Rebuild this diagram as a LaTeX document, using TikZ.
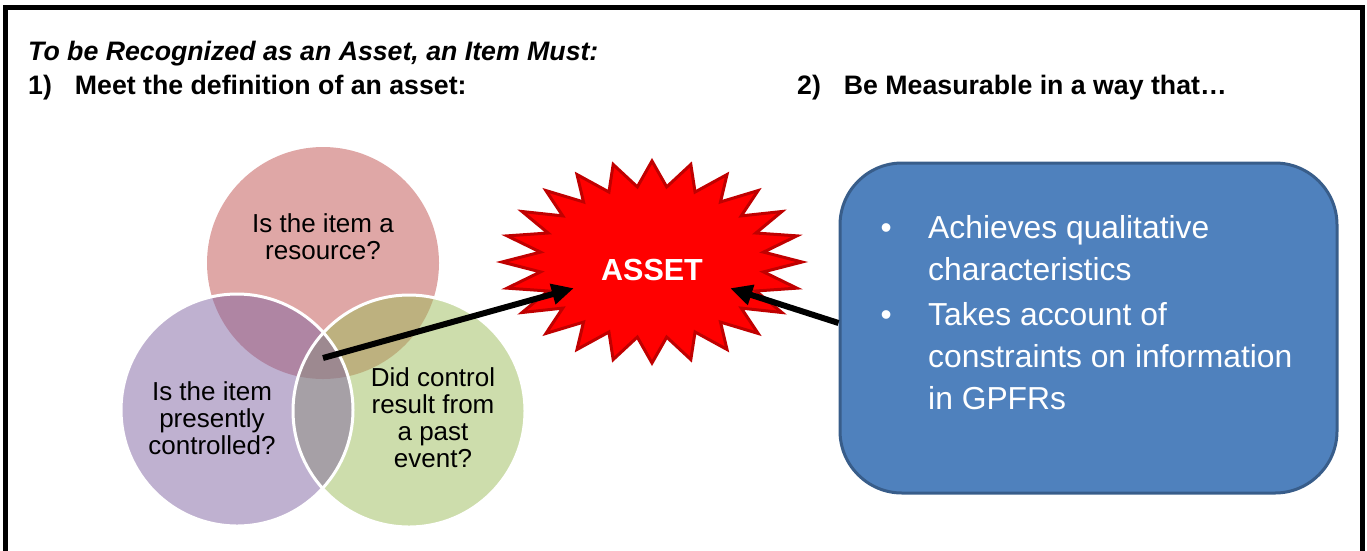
\documentclass[tikz,border=0pt]{standalone}
\usepackage{fontspec}
\setmainfont{Liberation Sans}
\usetikzlibrary{arrows.meta}
\usetikzlibrary{positioning}
\definecolor{vennred}{HTML}{C0504D}
\definecolor{vennpurple}{HTML}{8064A2}
\definecolor{venngreen}{HTML}{9BBB59}
\definecolor{boxblue}{HTML}{4F81BD}
\definecolor{boxedge}{HTML}{385D8A}
\definecolor{burstedge}{HTML}{C00000}

\begin{document}
\begin{tikzpicture}[x=1pt, y=-1pt, % Koordinaten in Pixeln, y nach unten
    venn/.style={circle, minimum size=232pt, inner sep=0pt, fill opacity=0.5},
    venntext/.style={align=center, inner sep=0pt, font=\fontsize{26}{27}\selectfont},
    heading/.style={anchor=base west, inner sep=0pt, font=\fontsize{26.7}{30}\selectfont\bfseries},
    burst/.style={fill=red, draw=burstedge, line width=3pt, line join=miter},
    measurebox/.style={rounded corners=62pt, fill=boxblue, draw=boxedge, line width=3pt, minimum width=497pt, minimum height=330pt},
    pointer/.style={line width=6pt, -{Triangle[length=22pt,width=20pt]}}
]
    \useasboundingbox (0,0) rectangle (1367,550);

    % Rahmen (unten offen)
    \draw[line width=5pt] (5.5,600) -- (5.5,7) -- (1362.5,7) -- (1362.5,600);

    % Ueberschriften
    \node[heading, font=\fontsize{26.7}{30}\selectfont\bfseries\itshape] (must) at (28,60) {To be Recognized as an Asset, an Item Must:};
    \node[heading] (definition) at (28,94) {1)\hspace{23pt}Meet the definition of an asset:};
    \node[heading] (measurable) at (797,94) {2)\hspace{23pt}Be Measurable in a way that…};

    % Venn-Diagramm
    \foreach \name/\x/\y/\col in {resource/323/263/vennred, past/409/411/venngreen, control/237/410/vennpurple} {
        \node[venn, fill=\col] (\name) at (\x,\y) {};
    }
    \foreach \name in {past, control} {
        \draw[white, line width=3pt] (\name) circle[radius=116pt]; % weisse Raender
    }
    \foreach \name/\x/\y/\txt in {resourcetext/323/237/{Is the item a\\resource?},
                                  controltext/212/418/{Is the item\\presently\\controlled?},
                                  pasttext/433/418/{Did control\\result from\\a past\\event?}} {
        \node[venntext] (\name) at (\x,\y) {\txt};
    }
    \coordinate (core) at (323,358);

    % Stern mit 24 Zacken
    \draw[burst] (652,161)
        \foreach \k in {0,...,23} {
            -- ({652+112.5*cos(97.5+15*\k)},{262-75.75*sin(97.5+15*\k)})
            -- ({652+150*cos(105+15*\k)},{262-101*sin(105+15*\k)})
        } -- cycle;
    \node[text=white, font=\fontsize{30.5}{32}\selectfont\bfseries, minimum width=156pt, minimum height=36pt, inner sep=0pt] (asset) at (652,270) {ASSET};

    % Kasten rechts
    \node[measurebox] (measure) at (1088.5,328) {};
    \node[anchor=north west, inner sep=0pt, text=white, font=\fontsize{31.8}{42}\selectfont] (criteria) at (880.5,209) {%
        \begin{tabular}{@{}l@{\hspace{36.4pt}}l@{}}
            • & Achieves qualitative\\
              & characteristics\\[3pt]
            • & Takes account of\\
              & constraints on information\\
              & in GPFRs
        \end{tabular}};

    % Pfeile
    \draw[pointer] (core) -- (asset.south west);
    \draw[pointer] ([yshift=5pt]measure.west) -- (asset.south east);
\end{tikzpicture}
\end{document}
